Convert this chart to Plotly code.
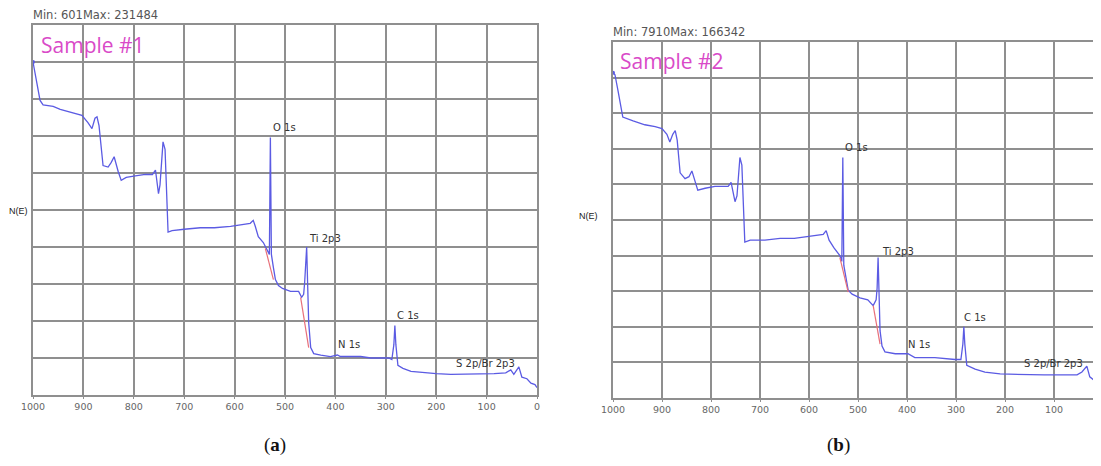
import plotly.graph_objects as go

# ---------------- data (binding energy in eV, N(E) in thousand counts) ----------------
be_a = [1000, 992, 986, 980, 960, 946, 922, 903, 891, 883, 877, 873, 869, 865, 861, 851, 845,
        839, 835, 831, 825, 815, 797, 777, 763, 757, 751, 748, 742, 738, 732, 724, 700, 668,
        640, 608, 569, 563, 559, 553, 543, 535, 531, 529, 527, 523, 519, 513, 505, 489, 473,
        467, 463, 461, 457, 455, 453, 449, 443, 429, 410, 396, 390, 370, 350, 330, 310, 294,
        288, 284, 282, 280, 276, 266, 250, 225, 200, 171, 140, 111, 85, 62, 52, 46, 36, 30,
        20, 12, 4, 0]
n_a = [225, 209, 199, 196, 195, 193, 191, 189, 184, 180, 187, 188, 182, 166, 155, 154, 157,
       161, 155, 151, 145, 147, 148, 149, 149, 152, 136, 142, 171, 166, 110, 111, 112, 113,
       113, 114, 116, 118, 114, 107, 103, 98, 95, 174, 95, 86, 78, 74, 72, 70, 70,
       66, 68, 76, 100, 74, 49, 32, 28, 27, 26, 27, 26, 26, 26, 25, 25, 25,
       24, 34, 47, 34, 20, 18, 16, 15, 14.5, 14, 14, 14, 14.5, 15, 17, 14, 19, 12,
       11, 8, 7, 5]

be_b = [1000, 996, 990, 986, 980, 959, 935, 914, 900, 890, 884, 878, 873, 869, 863, 853, 845,
        839, 833, 827, 812, 792, 765, 759, 751, 747, 741, 737, 731, 720, 690, 659, 630, 598,
        571, 565, 559, 549, 537, 533, 531, 529, 524, 520, 512, 496, 480, 469, 463, 461, 459,
        457, 455, 451, 445, 424, 398, 384, 343, 302, 290, 286, 284, 282, 278, 261, 241, 210,
        180, 149, 120, 88, 53, 43, 33, 27, 18, 6, 0]
n_b = [169, 168, 160, 155, 146, 144, 142, 141, 140, 137, 133, 137, 139, 134, 117, 114, 115,
       118, 113, 108, 109, 110, 110, 112, 102, 105, 125, 121, 81, 82, 82, 83, 83, 84,
       85, 87, 82, 78, 74, 71, 125, 69, 61, 56, 54, 52, 51, 48, 51, 57, 73,
       56, 35, 27, 24, 23, 23, 21, 21, 20, 20, 28, 37, 28, 17, 15, 13.5, 12.5,
       12.2, 12, 12, 12, 12, 13.5, 16.6, 11, 9.4, 6.8, 5.7]

# background (fit) segments drawn in red
red_be_a = [539, 523, None, 469, 453]
red_n_a = [99, 78, None, 66, 32]
red_be_b = [537, 520, None, 469, 455]
red_n_b = [73, 55, None, 48, 28]

x_ticks = [1000, 900, 800, 700, 600, 500, 400, 300, 200, 100, 0]
x_tick_text = [str(v) for v in x_ticks]

peak_labels = ["O 1s", "Ti 2p3", "N 1s", "C 1s", "S 2p/Br 2p3"]
peak_be_a = [527, 457, 398, 282, 165]
peak_n_a = [181, 106, 34, 54, 21.6]
peak_be_b = [531, 455, 402, 288, 165]
peak_n_b = [130, 76, 28, 42, 17.7]

header_a = "Min: 601Max: 231484"
header_b = "Min: 7910Max: 166342"
sample_a = "Sample #1"
sample_b = "Sample #2"
y_title = "N(E)"
caption_a = "(<b>a</b>)"
caption_b = "(<b>b</b>)"

# ---------------- figure ----------------
W, H = 1101, 466
OFF = 8  # page body margin of the browser
BLUE = "#5b5be3"
RED = "#e8707a"
GRID = "#8f8f8f"

fig = go.Figure()
fig.add_trace(go.Scatter(x=be_a, y=n_a, mode="lines", line=dict(color=BLUE, width=1.3),
                         xaxis="x", yaxis="y", showlegend=False))
fig.add_trace(go.Scatter(x=red_be_a, y=red_n_a, mode="lines", line=dict(color=RED, width=1.2),
                         xaxis="x", yaxis="y", showlegend=False, connectgaps=False))
fig.add_trace(go.Scatter(x=be_a[:1], y=n_a[:1], mode="markers", marker=dict(color=BLUE, size=4),
                         xaxis="x", yaxis="y", showlegend=False))
fig.add_trace(go.Scatter(x=be_b, y=n_b, mode="lines", line=dict(color=BLUE, width=1.3),
                         xaxis="x2", yaxis="y2", showlegend=False))
fig.add_trace(go.Scatter(x=red_be_b, y=red_n_b, mode="lines", line=dict(color=RED, width=1.2),
                         xaxis="x2", yaxis="y2", showlegend=False, connectgaps=False))
fig.add_trace(go.Scatter(x=be_b[:1], y=n_b[:1], mode="markers", marker=dict(color=BLUE, size=4),
                         xaxis="x2", yaxis="y2", showlegend=False))

def px_x(p):
    return (p - OFF) / W

def px_y(p):
    return 1 - (p - OFF) / H

xa_common = dict(tickvals=x_ticks, ticktext=x_tick_text, showgrid=True, gridcolor=GRID,
                 gridwidth=1.5, showline=True, linecolor=GRID, linewidth=1.5, mirror=True,
                 ticks="outside", ticklen=2, tickcolor=GRID, zeroline=False, automargin=False,
                 tickfont=dict(family="DejaVu Sans", size=9.5, color="#666"))
ya_common = dict(showgrid=True, gridcolor=GRID, gridwidth=1.5, showline=True, linecolor=GRID,
                 linewidth=1.5, mirror=True, showticklabels=False, ticks="", zeroline=False,
                 automargin=False)

fig.update_layout(
    template="none",
    width=W, height=H, margin=dict(l=0, r=0, t=0, b=0, pad=0, autoexpand=False),
    paper_bgcolor="white", plot_bgcolor="white", showlegend=False,
    xaxis=dict(domain=[px_x(33), px_x(537)], range=[1000, 0], anchor="y", **xa_common),
    yaxis=dict(domain=[px_y(395), px_y(25)], range=[0, 250], dtick=25, anchor="x", **ya_common),
    xaxis2=dict(domain=[px_x(613), px_x(1103)], range=[1000, 0], anchor="y2", **xa_common),
    yaxis2=dict(domain=[px_y(398), px_y(42)], range=[0, 185], dtick=18.5, anchor="x2", **ya_common),
)

ann = []
lab_font = dict(family="DejaVu Sans", size=10, color="#333")
for t, x, y in zip(peak_labels, peak_be_a, peak_n_a):
    ann.append(dict(text=t, x=x, y=y, xref="x", yref="y", xanchor="left", yanchor="middle",
                    showarrow=False, font=lab_font))
for t, x, y in zip(peak_labels, peak_be_b, peak_n_b):
    ann.append(dict(text=t, x=x, y=y, xref="x2", yref="y2", xanchor="left", yanchor="middle",
                    showarrow=False, font=lab_font))

hdr_font = dict(family="DejaVu Sans", size=11.5, color="#555")
ann.append(dict(text=header_a, x=px_x(31), y=px_y(15), xref="paper", yref="paper",
                xanchor="left", yanchor="middle", showarrow=False, font=hdr_font))
ann.append(dict(text=header_b, x=px_x(611), y=px_y(32), xref="paper", yref="paper",
                xanchor="left", yanchor="middle", showarrow=False, font=hdr_font))

smp_font = dict(family="Open Sans", size=21, color="#d94ac8")
ann.append(dict(text=sample_a, x=px_x(39), y=px_y(45), xref="paper", yref="paper",
                xanchor="left", yanchor="middle", showarrow=False, font=smp_font))
ann.append(dict(text=sample_b, x=px_x(618), y=px_y(61), xref="paper", yref="paper",
                xanchor="left", yanchor="middle", showarrow=False, font=smp_font))

ne_font = dict(family="Liberation Sans", size=9, color="#222")
ann.append(dict(text=y_title, x=px_x(18), y=px_y(211), xref="paper", yref="paper",
                xanchor="center", yanchor="middle", showarrow=False, font=ne_font))
ann.append(dict(text=y_title, x=px_x(588), y=px_y(216), xref="paper", yref="paper",
                xanchor="center", yanchor="middle", showarrow=False, font=ne_font))

cap_font = dict(family="Liberation Serif", size=19, color="#111")
ann.append(dict(text=caption_a, x=px_x(275), y=px_y(445), xref="paper", yref="paper",
                xanchor="center", yanchor="middle", showarrow=False, font=cap_font))
ann.append(dict(text=caption_b, x=px_x(838), y=px_y(445), xref="paper", yref="paper",
                xanchor="center", yanchor="middle", showarrow=False, font=cap_font))

fig.update_layout(annotations=ann)
fig.write_html("out.html")
